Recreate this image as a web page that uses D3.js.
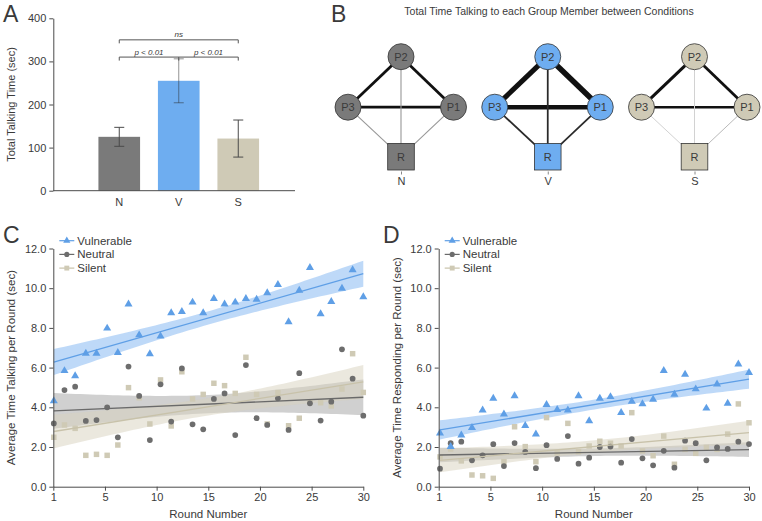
<!DOCTYPE html>
<html>
<head>
<meta charset="utf-8">
<script src="https://cdn.jsdelivr.net/npm/d3@7"></script>
<style>
body { margin: 0; background: #fff; }
svg text { font-family: "Liberation Sans", Arial, sans-serif; fill: #3a3a3a; }
</style>
</head>
<body>
<svg id="chart" width="762" height="521"></svg>
<script>
// ---- panel A data
const conditions = ['N', 'V', 'S'];
const totalTalk = [125, 255, 121];
const totalErr = [22, 51, 43];
const condColors = ['#7a7a7a', '#6eadf0', '#cfcab6'];

// ---- panel B data (edge weights between group members)
const edgePairs = [['P2', 'P3'], ['P2', 'P1'], ['P3', 'P1'], ['P3', 'R'], ['P2', 'R'], ['P1', 'R']];
const edgesN = [45, 45, 45, 12, 12, 12];
const edgesV = [90, 105, 80, 25, 25, 25];
const edgesS = [50, 45, 38, 5, 5, 8];

// ---- panel C / D data
const rounds = d3.range(1, 31);
const roundTicks = [0, 5, 10, 15, 20, 25, 30];
const roundTickLabels = ['1', '5', '10', '15', '20', '25', '30'];

const vulnTalk = [4.32, 5.84, 5.58, 6.72, 6.72, 7.98, 6.75, 9.2, 7.64, 6.69, 7.58, 8.75, 8.82, 9.29, 8.75,
    9.47, 9.2, 9.29, 9.47, 9.44, 9.76, 10.18, 8.3, 9.89, 11.03, 8.7, 9.32, 9.99, 10.92, 9.56];
const neutTalk = [3.19, 4.87, 5.04, 3.31, 3.36, 4.0, 2.49, 6.05, 4.57, 2.35, 5.16, 3.28, 5.96, 3.14, 2.89,
    4.42, 4.7, 2.6, 6.13, 3.45, 3.11, 4.45, 2.86, 5.72, 4.2, 3.33, 4.28, 6.92, 5.44, 3.58];
const silTalk = [2.49, 3.11, 2.94, 1.58, 1.63, 1.58, 2.1, 4.99, 4.48, 3.16, 5.38, 3.06, 5.79, 4.42, 4.65,
    5.21, 5.09, 4.7, 6.52, 4.65, 3.16, 4.74, 3.07, 3.45, 4.25, 4.23, 4.07, 4.92, 6.7, 4.75];

const vulnResp = [2.7, 2.02, 2.6, 2.97, 3.86, 4.45, 3.65, 4.57, 3.07, 2.65, 4.13, 3.88, 3.86, 4.57, 3.31,
    4.45, 4.53, 3.73, 4.3, 4.17, 4.4, 5.85, 4.65, 5.66, 4.92, 3.95, 5.17, 4.2, 6.17, 5.75];
const neutResp = [0.91, 2.19, 2.27, 1.33, 1.58, 2.14, 1.04, 2.2, 1.75, 0.93, 2.09, 1.4, 2.55, 1.16, 1.46,
    2.0, 2.02, 1.21, 2.4, 1.43, 1.08, 1.81, 0.96, 2.32, 2.19, 1.33, 1.98, 1.9, 2.27, 2.15];
const silResp = [1.5, 1.9, 1.3, 0.59, 0.55, 0.42, 1.26, 3.02, 2.02, 1.26, 3.48, 1.7, 3.19, 1.76, 2.05,
    2.29, 2.19, 2.05, 3.73, 1.8, 1.56, 2.55, 1.13, 1.88, 1.68, 1.98, 1.88, 2.65, 4.17, 3.22];

const seriesNames = ['Vulnerable', 'Neutral', 'Silent'];

const svg = d3.select('#chart');
const axisColor = '#4a4a4a';

function styleAxis(g) {
    g.selectAll('path, line').attr('stroke', axisColor);
    g.selectAll('text').attr('font-size', '11px').attr('fill', '#3a3a3a');
}

function panelLabel(txt, x, y) {
    svg.append('text').attr('x', x).attr('y', y).attr('font-size', '23px').attr('fill', '#111').text(txt);
}

// ================= Panel A =================
const yA = d3.scaleLinear().domain([0, 400]).range([190.7, 18.3]);
const xA = d3.scaleBand().domain(conditions).range([89.5, 268]).paddingInner(0.3).paddingOuter(0.15);

panelLabel('A', 3, 22);

const gA = svg.append('g');
gA.selectAll('rect.bar')
    .data(conditions)
    .join('rect')
    .attr('class', 'bar')
    .attr('x', (d) => xA(d))
    .attr('y', (d, i) => yA(totalTalk[i]))
    .attr('width', xA.bandwidth())
    .attr('height', (d, i) => yA(0) - yA(totalTalk[i]))
    .attr('fill', (d, i) => condColors[i]);

// error bars
const err = gA.selectAll('g.err').data(conditions).join('g').attr('class', 'err');
const cx = (d) => xA(d) + xA.bandwidth() / 2;
err.append('line')
    .attr('x1', cx).attr('x2', cx)
    .attr('y1', (d, i) => yA(totalTalk[i] + totalErr[i]))
    .attr('y2', (d, i) => yA(totalTalk[i] - totalErr[i]));
err.append('line')
    .attr('x1', (d) => cx(d) - 5).attr('x2', (d) => cx(d) + 5)
    .attr('y1', (d, i) => yA(totalTalk[i] + totalErr[i]))
    .attr('y2', (d, i) => yA(totalTalk[i] + totalErr[i]));
err.append('line')
    .attr('x1', (d) => cx(d) - 5).attr('x2', (d) => cx(d) + 5)
    .attr('y1', (d, i) => yA(totalTalk[i] - totalErr[i]))
    .attr('y2', (d, i) => yA(totalTalk[i] - totalErr[i]));
err.selectAll('line').attr('stroke', (d) => d === 'V' ? 'rgba(40,40,40,0.5)' : '#4a4a4a').attr('stroke-width', 1);

// significance brackets
function bracket(v, x1, x2, mids) {
    const y = yA(v);
    const path = d3.path();
    path.moveTo(x1, y + 3.5); path.lineTo(x1, y); path.lineTo(x2, y); path.lineTo(x2, y + 3.5);
    mids.forEach((m) => { path.moveTo(m, y); path.lineTo(m, y + 3.5); });
    gA.append('path').attr('d', path.toString()).attr('fill', 'none').attr('stroke', '#555').attr('stroke-width', 1);
}
bracket(350, cx('N'), cx('S'), []);
bracket(310, cx('N'), cx('S'), [cx('V')]);
gA.append('text').attr('x', cx('V')).attr('y', yA(350) - 2.5).attr('text-anchor', 'middle')
    .attr('font-size', '8px').attr('font-style', 'italic').text('ns');
gA.append('text').attr('x', (cx('N') + cx('V')) / 2).attr('y', yA(310) - 2.5).attr('text-anchor', 'middle')
    .attr('font-size', '8px').attr('font-style', 'italic').text('p < 0.01');
gA.append('text').attr('x', (cx('V') + cx('S')) / 2).attr('y', yA(310) - 2.5).attr('text-anchor', 'middle')
    .attr('font-size', '8px').attr('font-style', 'italic').text('p < 0.01');

gA.append('g')
    .attr('transform', `translate(53.3,0)`)
    .call(d3.axisLeft(yA).tickValues([0, 100, 200, 300, 400]).tickSize(4).tickSizeOuter(0))
    .call(styleAxis);
gA.append('line').attr('x1', 53.3).attr('x2', 295).attr('y1', yA(0)).attr('y2', yA(0)).attr('stroke', axisColor);
gA.selectAll('text.xlab')
    .data(conditions)
    .join('text')
    .attr('class', 'xlab')
    .attr('x', cx)
    .attr('y', 206)
    .attr('text-anchor', 'middle')
    .attr('font-size', '11px')
    .text((d) => d);
gA.append('text')
    .attr('transform', `translate(15,${(yA(0) + yA(400)) / 2}) rotate(-90)`)
    .attr('text-anchor', 'middle')
    .attr('font-size', '11px')
    .text('Total Talking Time (sec)');

// ================= Panel B =================
panelLabel('B', 331, 22);
svg.append('text').attr('x', 549).attr('y', 15).attr('text-anchor', 'middle')
    .attr('font-size', '10.5px').text('Total Time Talking to each Group Member between Conditions');

const xB = d3.scalePoint().domain(conditions).range([401, 694.5]);
const nodeOffset = { P2: [0, -50.5], P3: [-53, 0], P1: [52.5, 0], R: [0, 49.5] };
const cyB = 107.2;
const widthB = d3.scaleLinear().domain([10, 100]).range([1, 5.6]).clamp(true);
const greyB = d3.scaleLinear().domain([5, 28]).range(['#d2d2d2', '#111']).clamp(true);
const edgeSets = [edgesN, edgesV, edgesS];

conditions.forEach((c, ci) => {
    const g = svg.append('g');
    const pos = (n) => [xB(c) + nodeOffset[n][0], cyB + nodeOffset[n][1]];
    g.selectAll('line.edge')
        .data(edgePairs)
        .join('line')
        .attr('class', 'edge')
        .attr('x1', (d) => pos(d[0])[0]).attr('y1', (d) => pos(d[0])[1])
        .attr('x2', (d) => pos(d[1])[0]).attr('y2', (d) => pos(d[1])[1])
        .attr('stroke', (d, i) => greyB(edgeSets[ci][i]))
        .attr('stroke-width', (d, i) => widthB(edgeSets[ci][i]));
    ['P2', 'P3', 'P1'].forEach((n) => {
        g.append('circle').attr('cx', pos(n)[0]).attr('cy', pos(n)[1]).attr('r', 13)
            .attr('fill', condColors[ci]).attr('stroke', '#333').attr('stroke-width', 0.8);
        g.append('text').attr('x', pos(n)[0]).attr('y', pos(n)[1] + 4).attr('text-anchor', 'middle')
            .attr('font-size', '11px').text(n);
    });
    g.append('rect').attr('x', pos('R')[0] - 13.3).attr('y', pos('R')[1] - 13.3).attr('width', 26.6).attr('height', 26.6)
        .attr('fill', condColors[ci]).attr('stroke', '#333').attr('stroke-width', 0.8);
    g.append('text').attr('x', pos('R')[0]).attr('y', pos('R')[1] + 4).attr('text-anchor', 'middle')
        .attr('font-size', '11px').text('R');
});
const axB = svg.append('g')
    .attr('transform', 'translate(0,171.5)')
    .call(d3.axisBottom(xB).tickSize(3).tickPadding(3).tickSizeOuter(0));
axB.select('.domain').remove();
axB.call(styleAxis);
axB.selectAll('line').attr('stroke', '#888');

// ================= Panels C & D =================
function fitLine(xs, ys) {
    const n = xs.length;
    const xbar = d3.mean(xs), ybar = d3.mean(ys);
    let sxx = 0, sxy = 0;
    xs.forEach((x, i) => { sxx += (x - xbar) ** 2; sxy += (x - xbar) * (ys[i] - ybar); });
    const b = sxy / sxx, a = ybar - b * xbar;
    let sse = 0;
    xs.forEach((x, i) => { sse += (ys[i] - a - b * x) ** 2; });
    const s = Math.sqrt(sse / (n - 2));
    const t = 2.048;
    return {
        f: (x) => a + b * x,
        ci: (x) => t * s * Math.sqrt(1 / n + (x - xbar) ** 2 / sxx),
    };
}

const seriesStyle = [
    { color: '#5f9fe6', line: '#5f9fe6', band: 'rgba(110,170,240,0.45)', sym: d3.symbolTriangle, size: 28 },
    { color: '#6d6d6d', line: '#6a6a6a', band: 'rgba(150,150,150,0.45)', sym: d3.symbolCircle, size: 26 },
    { color: '#cfcab5', line: '#c8c2aa', band: 'rgba(215,210,190,0.5)', sym: d3.symbolSquare, size: 30 },
];

function scatterPanel(opt) {
    const g = svg.append('g');
    const xAxisScale = d3.scaleLinear().domain([0, 30]).range([opt.left, opt.right]);
    const x = d3.scaleLinear().domain([1, 30]).range([opt.left + opt.pad, opt.right]);
    const y = d3.scaleLinear().domain([0, 12]).range([486.7, 248.5]);

    const fits = opt.series.map((s) => fitLine(rounds, s));
    const grid = d3.range(1, 30.001, 0.5);

    // confidence bands
    fits.forEach((ft, si) => {
        g.append('path')
            .datum(grid)
            .attr('d', d3.area().x((d) => x(d)).y0((d) => y(ft.f(d) - ft.ci(d))).y1((d) => y(ft.f(d) + ft.ci(d))))
            .attr('fill', seriesStyle[si].band);
    });

    // points (silent and neutral below vulnerable)
    [2, 1, 0].forEach((si) => {
        g.selectAll(null)
            .data(opt.series[si])
            .join('path')
            .attr('d', d3.symbol().type(seriesStyle[si].sym).size(seriesStyle[si].size))
            .attr('transform', (d, i) => `translate(${x(rounds[i])},${y(d)})`)
            .attr('fill', seriesStyle[si].color);
    });

    // fit lines
    fits.forEach((ft, si) => {
        g.append('line')
            .attr('x1', x(1)).attr('y1', y(ft.f(1)))
            .attr('x2', x(30)).attr('y2', y(ft.f(30)))
            .attr('stroke', seriesStyle[si].line).attr('stroke-width', 1.3);
    });

    g.append('g')
        .attr('transform', `translate(${opt.left},0)`)
        .call(d3.axisLeft(y).tickValues(d3.range(0, 13, 2)).tickFormat(d3.format('.1f')).tickSize(4).tickSizeOuter(0))
        .call(styleAxis);
    g.append('g')
        .attr('transform', `translate(0,${y(0)})`)
        .call(d3.axisBottom(xAxisScale).tickValues(roundTicks).tickFormat((d, i) => roundTickLabels[i]).tickSize(4).tickSizeOuter(0))
        .call(styleAxis);

    g.append('text')
        .attr('x', (opt.left + opt.right) / 2).attr('y', 518)
        .attr('text-anchor', 'middle').attr('font-size', '11.5px').text('Round Number');
    g.append('text')
        .attr('transform', `translate(${opt.left - 38},${(y(0) + y(12)) / 2}) rotate(-90)`)
        .attr('text-anchor', 'middle').attr('font-size', '11.5px').text(opt.ytitle);

    // legend
    const lg = g.append('g').attr('transform', `translate(${opt.left + 6},240.7)`);
    seriesNames.forEach((name, si) => {
        const row = lg.append('g').attr('transform', `translate(0,${si * 13.7})`);
        row.append('line').attr('x1', 0).attr('x2', 15).attr('stroke', seriesStyle[si].line).attr('stroke-width', 1.2);
        row.append('path')
            .attr('d', d3.symbol().type(seriesStyle[si].sym).size(seriesStyle[si].size * 0.8))
            .attr('transform', 'translate(7.5,0)')
            .attr('fill', seriesStyle[si].color);
        row.append('text').attr('x', 18).attr('y', 4).attr('font-size', '11.5px').text(name);
    });
}

panelLabel('C', 3, 243);
scatterPanel({
    left: 53.3, right: 363.3, pad: 0.5,
    series: [vulnTalk, neutTalk, silTalk],
    ytitle: 'Average Time Talking per Round (sec)',
});

panelLabel('D', 383, 243);
scatterPanel({
    left: 438.7, right: 749, pad: 1.3,
    series: [vulnResp, neutResp, silResp],
    ytitle: 'Average Time Responding per Round (sec)',
});
</script>
</body>
</html>
